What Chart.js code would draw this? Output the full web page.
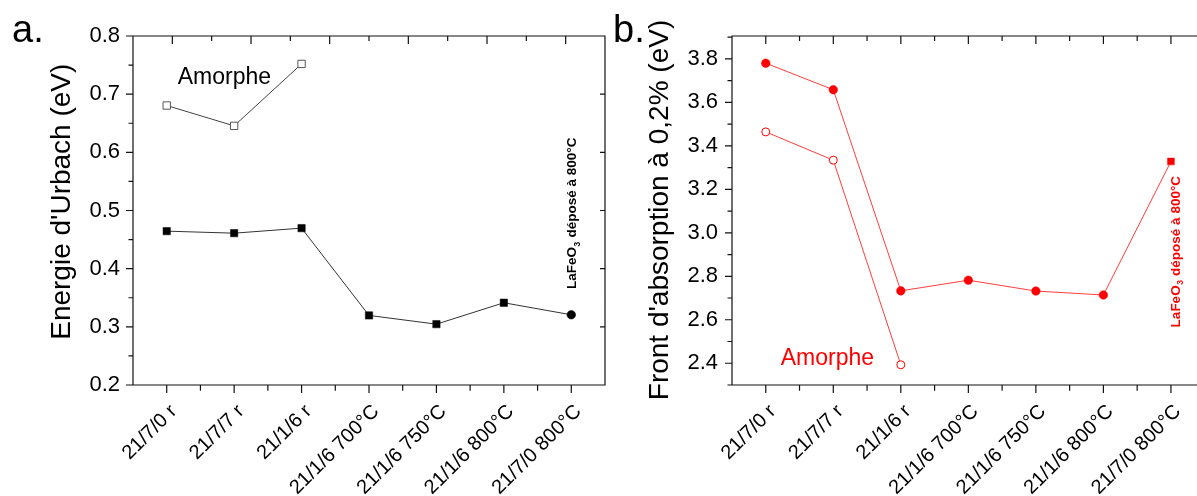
<!DOCTYPE html>
<html><head><meta charset="utf-8">
<script src="https://cdn.jsdelivr.net/npm/chart.js@4.4.1/dist/chart.umd.min.js"></script>
<style>
html,body{margin:0;padding:0;background:#fff;overflow:hidden;width:1197px;height:496px;}
#wa{position:absolute;left:0;top:0;width:615px;height:496px;}
#wb{position:absolute;left:600px;top:0;width:610px;height:496px;}
</style></head><body>
<div id="wa"><canvas id="ca"></canvas></div>
<div id="wb"><canvas id="cb"></canvas></div>
<script>
// ---- data ----
const categories = ['21/7/0 r','21/7/7 r','21/1/6 r','21/1/6 700°C','21/1/6 750°C','21/1/6 800°C','21/7/0 800°C'];
const urbachAmorphe = [0.6805, 0.6455, 0.752, null, null, null, null];
const urbachRecuit  = [0.4645, 0.461, 0.4697, 0.3196, 0.3046, 0.3414, 0.3207];
const frontAmorphe  = [3.464, 3.334, 2.393, null, null, null, null];
const frontRecuit   = [3.78, 3.658, 2.733, 2.782, 2.732, 2.714, 3.328];
const urbachTitle = "Energie d'Urbach (eV)";
const frontTitle = "Front d'absorption à 0,2% (eV)";
const amorpheLabel = 'Amorphe';
const annoMain = 'LaFeO', annoSub = '3', annoRest = ' déposé à 800°C';

const FAM = "'Liberation Sans', Arial, sans-serif";
Chart.defaults.color = '#000';
Chart.defaults.font.family = FAM;

function makeDeco(c) {
  return {
    id: 'deco',
    afterDraw(chart) {
      const {ctx, chartArea: a, scales: {x, y}} = chart;
      ctx.save();
      ctx.strokeStyle = '#111'; ctx.lineWidth = 1.2;
      ctx.beginPath();
      ctx.rect(a.left, a.top, a.right - a.left, a.bottom - a.top);
      // y ticks
      const maj = y.ticks.map(t => t.value);
      const step = maj[1] - maj[0];
      const minors = [];
      maj.forEach(v => minors.push(v - step / 2));
      minors.push(maj[maj.length - 1] + step / 2);
      maj.forEach(v => {
        const p = y.getPixelForValue(v);
        ctx.moveTo(a.left - 7, p); ctx.lineTo(a.left, p);
        if (c.rightTicks) { ctx.moveTo(a.right - 5, p); ctx.lineTo(a.right, p); }
      });
      minors.forEach(v => {
        if (v < y.min - 1e-9 || v > y.max + 1e-9) return;
        const p = y.getPixelForValue(v);
        ctx.moveTo(a.left - 4.5, p); ctx.lineTo(a.left, p);
      });
      // x ticks
      const n = categories.length;
      for (let i = 0; i < n; i++) {
        const p = x.getPixelForValue(i);
        ctx.moveTo(p, a.bottom); ctx.lineTo(p, a.bottom + 8);
        if (!c.topDiv) { ctx.moveTo(p, a.top); ctx.lineTo(p, a.top + 8); }
        if (i < n - 1) {
          const m = (p + x.getPixelForValue(i + 1)) / 2;
          ctx.moveTo(m, a.bottom); ctx.lineTo(m, a.bottom + 5.7);
          if (!c.topDiv) { ctx.moveTo(m, a.top); ctx.lineTo(m, a.top + 5); }
        }
      }
      if (c.topDiv) {
        const w = (a.right - a.left) / c.topDiv;
        for (let k = 0; k < c.topDiv; k++) {
          const p = a.left + (k + 0.5) * w;
          ctx.moveTo(p, a.top); ctx.lineTo(p, a.top + 8);
          if (k > 0) { ctx.moveTo(a.left + k * w, a.top); ctx.lineTo(a.left + k * w, a.top + 5); }
        }
      }
      ctx.stroke();

      // panel letter
      ctx.fillStyle = '#000';
      ctx.font = '38px ' + FAM;
      ctx.textAlign = 'left'; ctx.textBaseline = 'alphabetic';
      ctx.fillText(c.letter, c.letterX, 42);

      // y title
      ctx.save();
      ctx.translate(c.titleX, c.titleY);
      ctx.rotate(-Math.PI / 2);
      ctx.font = '28px ' + FAM;
      ctx.textAlign = 'center';
      ctx.fillText(c.title, 0, 0);
      ctx.restore();

      // Amorphe label
      ctx.fillStyle = c.color;
      ctx.font = '23px ' + FAM;
      ctx.textAlign = 'left';
      ctx.fillText(amorpheLabel, x.getPixelForValue(0) + c.amDx, y.getPixelForValue(c.amVal));

      // rotated annotation
      ctx.save();
      ctx.translate(x.getPixelForValue(n - 1) + c.anDx, y.getPixelForValue(c.anVal));
      ctx.rotate(-Math.PI / 2);
      ctx.font = 'bold 13.5px ' + FAM;
      ctx.fillText(annoMain, 0, 0);
      let w = ctx.measureText(annoMain).width;
      ctx.font = 'bold 8.5px ' + FAM;
      ctx.fillText(annoSub, w + 0.5, 3.5);
      w += ctx.measureText(annoSub).width + 1;
      ctx.font = 'bold 13.5px ' + FAM;
      ctx.fillText(annoRest, w, 0);
      ctx.restore();

      ctx.restore();
    }
  };
}

function xScale() {
  return {
    type: 'category', offset: true,
    grid: {display: false, drawTicks: false}, border: {display: false},
    ticks: {autoSkip: false, maxRotation: 45, minRotation: 45, padding: 15, labelOffset: 7,
            font: {size: 20, family: FAM}, color: '#000'},
    afterFit: s => { s.height = 111; }
  };
}

new Chart(document.getElementById('ca'), {
  type: 'line',
  data: {
    labels: categories,
    datasets: [
      {data: urbachAmorphe, borderColor: '#444', borderWidth: 1, tension: 0,
       pointStyle: 'rect', pointRadius: 5.2, pointBackgroundColor: '#fff',
       pointBorderColor: '#555', pointBorderWidth: 1},
      {data: urbachRecuit, borderColor: '#333', borderWidth: 1, tension: 0,
       pointStyle: ['rect','rect','rect','rect','rect','rect','circle'],
       pointRadius: [5.2,5.2,5.2,5.2,5.2,5.2,4.3],
       pointBackgroundColor: '#000', pointBorderColor: '#000', pointBorderWidth: 0.5}
    ]
  },
  options: {
    responsive: true, maintainAspectRatio: false, animation: false,
    layout: {padding: {top: 36, right: 10, left: 0, bottom: 0}},
    plugins: {legend: {display: false}, tooltip: {enabled: false}},
    scales: {
      x: xScale(),
      y: {min: 0.2, max: 0.8,
          grid: {display: false, drawTicks: false}, border: {display: false},
          ticks: {stepSize: 0.1, padding: 13, font: {size: 22, family: FAM}, color: '#000',
                  callback: v => Number(v).toFixed(1)},
          afterFit: s => { s.width = 133; }}
    }
  },
  plugins: [makeDeco({letter: 'a.', letterX: 12, title: urbachTitle, titleX: 70, titleY: 201.7,
                      topDiv: 6, rightTicks: true, color: '#000', amDx: 11, amVal: 0.718,
                      anDx: 5, anVal: 0.365})]
});

new Chart(document.getElementById('cb'), {
  type: 'line',
  data: {
    labels: categories,
    datasets: [
      {data: frontRecuit, borderColor: 'rgba(255,40,40,0.9)', borderWidth: 1, tension: 0,
       pointStyle: ['circle','circle','circle','circle','circle','circle','rect'],
       pointRadius: [4.3,4.3,4.3,4.3,4.3,4.3,4.8],
       pointBackgroundColor: '#ff0000', pointBorderColor: '#ff0000', pointBorderWidth: 0.5},
      {data: frontAmorphe, borderColor: 'rgba(255,40,40,0.9)', borderWidth: 1, tension: 0,
       pointStyle: 'circle', pointRadius: 4, pointBackgroundColor: '#fff',
       pointBorderColor: '#ff0000', pointBorderWidth: 1}
    ]
  },
  options: {
    responsive: true, maintainAspectRatio: false, animation: false,
    layout: {padding: {top: 36, right: 4, left: 0, bottom: 0}},
    plugins: {legend: {display: false}, tooltip: {enabled: false}},
    scales: {
      x: xScale(),
      y: {min: 2.3, max: 3.905,
          grid: {display: false, drawTicks: false}, border: {display: false},
          ticks: {stepSize: 0.2, includeBounds: false, padding: 14, font: {size: 22, family: FAM}, color: '#000',
                  callback: v => Number(v).toFixed(1)},
          afterFit: s => { s.width = 132; }}
    }
  },
  plugins: [makeDeco({letter: 'b.', letterX: 13, title: frontTitle, titleX: 68, titleY: 210,
                      topDiv: 0, rightTicks: false, color: '#ff0000', amDx: 15, amVal: 2.394,
                      anDx: 9, anVal: 2.565})]
});
</script>
</body></html>
